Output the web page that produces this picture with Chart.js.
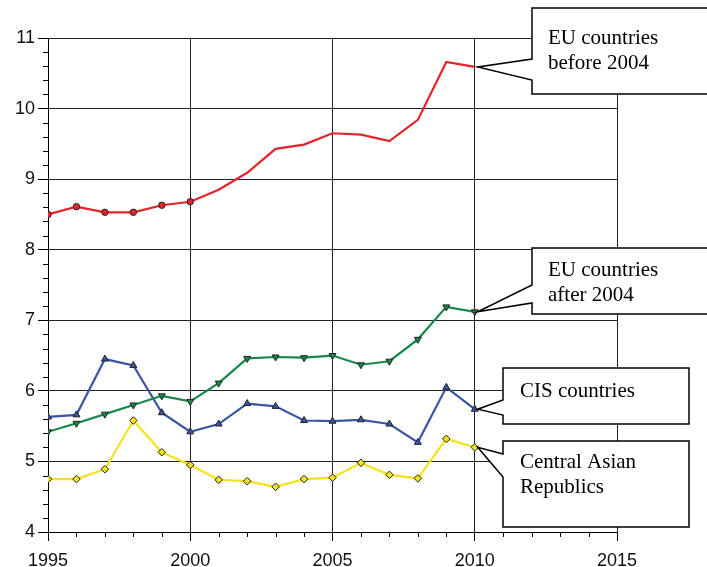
<!DOCTYPE html>
<html>
<head>
<meta charset="utf-8">
<script src="https://cdn.jsdelivr.net/npm/chart.js@4"></script>
<style>
html,body{margin:0;padding:0;background:#fff;}
#wrap{width:707px;height:567px;position:relative;}
</style>
</head>
<body>
<div id="wrap"><canvas id="c" width="707" height="567"></canvas></div>
<script>
const years = [1995,1996,1997,1998,1999,2000,2001,2002,2003,2004,2005,2006,2007,2008,2009,2010];
const euBefore2004 = [8.50,8.61,8.53,8.53,8.63,8.68,8.85,9.09,9.43,9.49,9.65,9.63,9.54,9.84,10.66,10.59];
const euAfter2004 = [5.42,5.54,5.67,5.80,5.93,5.85,6.11,6.46,6.48,6.47,6.50,6.37,6.42,6.73,7.19,7.12];
const cisCountries = [5.63,5.66,6.45,6.36,5.69,5.42,5.53,5.82,5.78,5.58,5.57,5.59,5.53,5.27,6.05,5.74];
const centralAsian = [4.75,4.75,4.89,5.58,5.13,4.95,4.74,4.72,4.64,4.75,4.77,4.98,4.81,4.76,5.32,5.20];
const seriesNames = ['EU countries before 2004','EU countries after 2004','CIS countries','Central Asian Republics'];
const calloutLines = [['EU countries','before 2004'],['EU countries','after 2004'],['CIS countries'],['Central Asian','Republics']];
const xTicks = [1995,2000,2005,2010,2015];
const yTicks = [4,5,6,7,8,9,10,11];

function pts(arr){ return years.map((y,i)=>({x:y,y:arr[i]})); }

// callout box geometry (layout only)
const boxes = [
  {x0:532,y0:8,x1:720,y1:94,a0:59,a1:80,tx:548,base:[44,69]},
  {x0:532,y0:248,x1:720,y1:314,a0:285,a1:303,tx:548,base:[276,301]},
  {x0:503,y0:368,x1:689,y1:424,a0:400,a1:415,tx:520,base:[397]},
  {x0:503,y0:441,x1:689,y1:527,a0:454,a1:477,tx:520,base:[468,493]}
];

const minorTicks = {
  id:'minorTicks',
  afterDraw(chart){
    const ctx = chart.ctx, xs = chart.scales.x, ys = chart.scales.y;
    ctx.save();
    ctx.strokeStyle = '#000'; ctx.lineWidth = 1;
    ctx.beginPath();
    for(let yr=1996; yr<2015; yr++){
      if(yr%5===0) continue;
      const px = Math.round(xs.getPixelForValue(yr))+0.5;
      ctx.moveTo(px, ys.bottom); ctx.lineTo(px, ys.bottom+5);
    }
    for(let k=40;k<=110;k+=2){
      if(k%10===0) continue;
      const py = Math.round(ys.getPixelForValue(k/10))+0.5;
      ctx.moveTo(xs.left-5, py); ctx.lineTo(xs.left, py);
    }
    ctx.stroke();
    ctx.restore();
  }
};

const callouts = {
  id:'callouts',
  afterDraw(chart){
    const ctx = chart.ctx;
    ctx.save();
    boxes.forEach((b,i)=>{
      const meta = chart.getDatasetMeta(i);
      const el = meta.data[meta.data.length-1];
      const tx = el.x + 3, ty = el.y;
      ctx.beginPath();
      ctx.moveTo(b.x0,b.y0);
      ctx.lineTo(b.x1,b.y0);
      ctx.lineTo(b.x1,b.y1);
      ctx.lineTo(b.x0,b.y1);
      ctx.lineTo(b.x0,b.a1);
      ctx.lineTo(tx,ty);
      ctx.lineTo(b.x0,b.a0);
      ctx.closePath();
      ctx.fillStyle = '#fff';
      ctx.fill();
      ctx.strokeStyle = '#000';
      ctx.lineWidth = 1.5;
      ctx.lineJoin = 'miter';
      ctx.stroke();
      ctx.fillStyle = '#000';
      ctx.font = '21px "Liberation Serif", "Times New Roman", serif';
      ctx.textBaseline = 'alphabetic';
      ctx.textAlign = 'left';
      calloutLines[i].forEach((t,j)=>ctx.fillText(t, b.tx, b.base[j]));
    });
    ctx.restore();
  }
};

const tickFont = {family:'"Liberation Sans", Arial, sans-serif', size:18};

new Chart(document.getElementById('c'), {
  type:'line',
  data:{
    datasets:[
      {label:seriesNames[0], data:pts(euBefore2004), borderColor:'#e8222b', backgroundColor:'#e8222b',
       borderWidth:2.2, pointStyle:'circle', pointRadius:years.map(y=>y<=2000?3.2:0),
       pointBorderColor:'#222', pointBorderWidth:1, tension:0},
      {label:seriesNames[1], data:pts(euAfter2004), borderColor:'#17874a', backgroundColor:'#17874a',
       borderWidth:2.2, pointStyle:'triangle', rotation:180, pointRadius:4,
       pointBorderColor:'#222', pointBorderWidth:1, tension:0},
      {label:seriesNames[2], data:pts(cisCountries), borderColor:'#3a55a5', backgroundColor:'#3a55a5',
       borderWidth:2.2, pointStyle:'triangle', pointRadius:4,
       pointBorderColor:'#222', pointBorderWidth:1, tension:0},
      {label:seriesNames[3], data:pts(centralAsian), borderColor:'#f5e21a', backgroundColor:'#f5e21a',
       borderWidth:2.2, pointStyle:'rectRot', pointRadius:3.8,
       pointBorderColor:'#222', pointBorderWidth:1, tension:0}
    ]
  },
  options:{
    responsive:false,
    animation:false,
    events:[],
    layout:{padding:{top:38,right:90,left:0,bottom:0}},
    plugins:{legend:{display:false}, tooltip:{enabled:false}},
    scales:{
      x:{
        type:'linear', min:1995, max:2015,
        afterBuildTicks(s){ s.ticks = xTicks.map(v=>({value:v})); },
        afterFit(s){ s.height = 35; },
        grid:{color:'#222', lineWidth:1, tickLength:9, tickColor:'#000', drawTicks:true},
        border:{display:true, color:'#000', width:1},
        ticks:{font:tickFont, color:'#111', padding:9, maxRotation:0, autoSkip:false,
               callback:(v)=>String(v)}
      },
      y:{
        type:'linear', min:4, max:11,
        afterBuildTicks(s){ s.ticks = yTicks.map(v=>({value:v})); },
        afterFit(s){ s.width = 48; },
        grid:{color:'#222', lineWidth:1, tickLength:10, tickColor:'#000', drawTicks:true},
        border:{display:true, color:'#000', width:1},
        ticks:{font:tickFont, color:'#111', padding:3, callback:(v)=>String(v)}
      }
    }
  },
  plugins:[minorTicks, callouts]
});
</script>
</body>
</html>
